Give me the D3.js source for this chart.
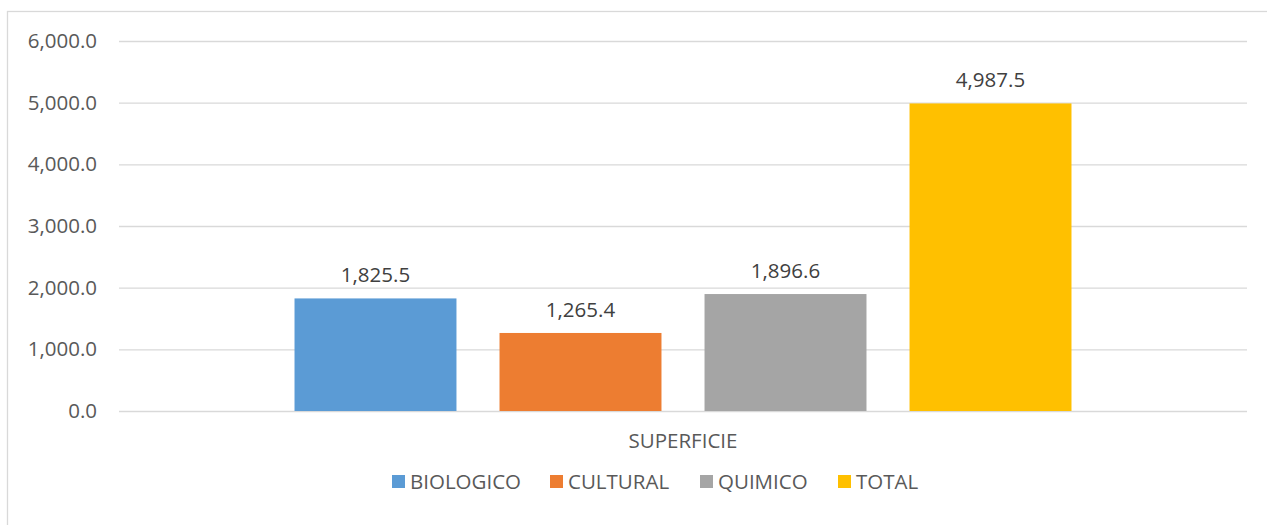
<!DOCTYPE html>
<html><head><meta charset="utf-8">
<script src="https://cdn.jsdelivr.net/npm/d3@7"></script>
<style>body{margin:0;background:#fff}svg{display:block}</style>
</head><body>
<script>
const categories = ["SUPERFICIE"];
const seriesNames = ["BIOLOGICO", "CULTURAL", "QUIMICO", "TOTAL"];
const seriesValues = [1825.5, 1265.4, 1896.6, 4987.5];
const seriesColors = ["#5B9BD5", "#ED7D31", "#A5A5A5", "#FFC000"];
const yTicks = [0, 1000, 2000, 3000, 4000, 5000, 6000];

(function () {
const W = 1267, H = 525;
const FONT = "'Open Sans', sans-serif";
const FS = "20.5px";
const svg = d3.select("body").append("svg").attr("width", W).attr("height", H);

svg.append("rect").attr("x", 7.5).attr("y", 11.5).attr("width", W + 10).attr("height", H + 10)
  .attr("fill", "#fff").attr("stroke", "#d9d9d9").attr("stroke-width", 1.3);

const pLeft = 119, pRight = 1247, pTop = 41, pBottom = 411;
const y = d3.scaleLinear().domain([0, 6000]).range([pBottom, pTop]);
const x0 = d3.scaleBand().domain(categories).range([pLeft, pRight]).paddingInner(0).paddingOuter(0.2259);
const x1 = d3.scaleBand().domain(seriesNames).range([0, x0.bandwidth()]).paddingInner(0.21).paddingOuter(0);

const fmt = d3.format(",.1f");

const yAxis = d3.axisLeft(y).tickValues(yTicks).tickSize(-(pRight - pLeft)).tickFormat(fmt).tickPadding(22);
const gy = svg.append("g").attr("transform", `translate(${pLeft},0)`).call(yAxis);
gy.select(".domain").remove();
gy.selectAll(".tick line").attr("stroke", "#d9d9d9").attr("stroke-width", 1.3);
gy.selectAll(".tick text").attr("fill", "#595959").style("font-family", FONT).style("font-size", FS);

const g = svg.append("g");
categories.forEach(cat => {
  const gx = x0(cat);
  seriesNames.forEach((s, i) => {
    const v = seriesValues[i];
    g.append("rect").attr("x", gx + x1(s)).attr("y", y(v)).attr("width", x1.bandwidth())
      .attr("height", y(0) - y(v)).attr("fill", seriesColors[i]);
    g.append("text").attr("x", gx + x1(s) + x1.bandwidth() / 2).attr("y", y(v) - 16)
      .attr("text-anchor", "middle").attr("fill", "#404040")
      .style("font-family", FONT).style("font-size", FS).text(fmt(v));
  });
  svg.append("text").attr("x", gx + x0.bandwidth() / 2).attr("y", 448).attr("text-anchor", "middle")
    .attr("fill", "#595959").style("font-family", FONT).style("font-size", FS).text(cat);
});

const legendX = [392, 550, 700, 838];
const lg = svg.append("g");
seriesNames.forEach((s, i) => {
  lg.append("rect").attr("x", legendX[i]).attr("y", 475).attr("width", 13).attr("height", 13).attr("fill", seriesColors[i]);
  lg.append("text").attr("x", legendX[i] + 18).attr("y", 489).attr("fill", "#595959")
    .style("font-family", FONT).style("font-size", FS).text(s);
});
})();
</script>
</body></html>
